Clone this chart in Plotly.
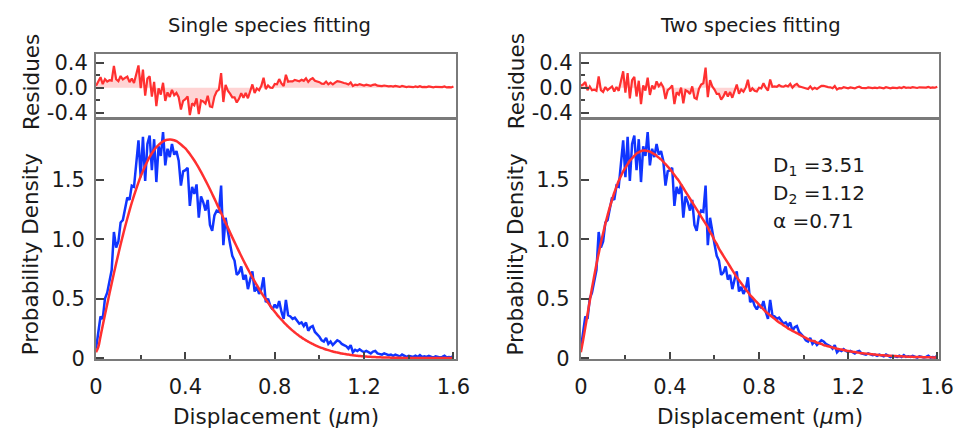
import plotly.graph_objects as go

# ---------------- data ----------------
bin_step = 0.01
n_bins = 161
displacement = [round(i * bin_step, 2) for i in range(n_bins)]

# measured probability density (same histogram in both panels)
density = [
    0.08, 0.20, 0.35, 0.33, 0.50, 0.55, 0.66, 0.74, 1.06, 0.93,
    0.98, 1.14, 1.16, 1.26, 1.35, 1.33, 1.45, 1.44, 1.62, 1.83,
    1.52, 1.86, 1.49, 1.80, 1.87, 1.58, 1.84, 1.48, 1.78, 1.70,
    1.90, 1.62, 1.76, 1.69, 1.80, 1.71, 1.74, 1.66, 1.45, 1.57,
    1.58, 1.60, 1.28, 1.44, 1.38, 1.46, 1.18, 1.36, 1.31, 1.24,
    1.33, 1.12, 1.07, 1.20, 1.24, 1.23, 1.45, 0.95, 1.18, 1.05,
    0.96, 0.86, 0.82, 0.70, 0.72, 0.77, 0.66, 0.70, 0.58, 0.66,
    0.73, 0.56, 0.60, 0.54, 0.58, 0.68, 0.47, 0.50, 0.44, 0.41,
    0.45, 0.42, 0.48, 0.39, 0.33, 0.49, 0.36, 0.35, 0.33, 0.34,
    0.31, 0.29, 0.30, 0.27, 0.30, 0.23, 0.26, 0.27, 0.22, 0.20,
    0.18, 0.15, 0.14, 0.17, 0.12, 0.14, 0.11, 0.13, 0.15, 0.14,
    0.12, 0.11, 0.10, 0.08, 0.11, 0.05, 0.07, 0.06, 0.075, 0.06,
    0.05, 0.06, 0.05, 0.04, 0.055, 0.06, 0.04, 0.035, 0.03, 0.04,
    0.03, 0.025, 0.03, 0.02, 0.03, 0.02, 0.015, 0.03, 0.02, 0.01,
    0.02, 0.015, 0.01, 0.02, 0.01, 0.025, 0.01, 0.015, 0.01, 0.02,
    0.01, 0.005, 0.015, 0.01, 0.005, 0.01, 0.02, 0.005, 0.01, 0.005,
    0.02,
]

# single species fit curve
fit_single = [
    0.05, 0.092, 0.183, 0.274, 0.364, 0.453, 0.541, 0.628, 0.713, 0.796,
    0.876, 0.955, 1.030, 1.104, 1.174, 1.241, 1.306, 1.366, 1.423, 1.477,
    1.528, 1.573, 1.616, 1.655, 1.691, 1.722, 1.749, 1.773, 1.792, 1.809,
    1.822, 1.831, 1.835, 1.837, 1.836, 1.831, 1.823, 1.811, 1.796, 1.779,
    1.762, 1.740, 1.716, 1.689, 1.661, 1.631, 1.599, 1.565, 1.530, 1.494,
    1.457, 1.419, 1.380, 1.341, 1.300, 1.260, 1.219, 1.178, 1.137, 1.097,
    1.056, 1.015, 0.975, 0.936, 0.897, 0.859, 0.821, 0.784, 0.748, 0.713,
    0.678, 0.645, 0.613, 0.581, 0.551, 0.521, 0.493, 0.466, 0.439, 0.414,
    0.390, 0.366, 0.344, 0.323, 0.303, 0.284, 0.265, 0.248, 0.231, 0.216,
    0.201, 0.187, 0.174, 0.161, 0.150, 0.139, 0.128, 0.119, 0.110, 0.101,
    0.093, 0.086, 0.079, 0.073, 0.067, 0.061, 0.056, 0.051, 0.047, 0.043,
    0.039, 0.036, 0.033, 0.030, 0.027, 0.024, 0.022, 0.020, 0.018, 0.016,
    0.015, 0.013, 0.012, 0.011, 0.010, 0.009, 0.008, 0.007, 0.006, 0.006,
    0.005, 0.005, 0.004, 0.004, 0.003, 0.003, 0.003, 0.002, 0.002, 0.002,
    0.002, 0.002, 0.002, 0.001, 0.001, 0.001, 0.001, 0.001, 0.001, 0.001,
    0.001, 0.001, 0.001, 0.001, 0.001, 0.001, 0.001, 0.001, 0.001, 0.001,
    0.001,
]

# two species fit curve
fit_two = [
    0.05, 0.15, 0.26, 0.37, 0.48, 0.59, 0.69, 0.79, 0.88, 0.97,
    1.05, 1.13, 1.20, 1.27, 1.33, 1.39, 1.44, 1.49, 1.53, 1.57,
    1.60, 1.63, 1.66, 1.68, 1.70, 1.72, 1.73, 1.74, 1.745, 1.745,
    1.74, 1.735, 1.725, 1.715, 1.70, 1.685, 1.67, 1.65, 1.63, 1.61,
    1.59, 1.565, 1.54, 1.515, 1.49, 1.46, 1.43, 1.40, 1.37, 1.34,
    1.31, 1.28, 1.25, 1.22, 1.19, 1.16, 1.13, 1.10, 1.06, 1.03,
    0.99, 0.96, 0.92, 0.89, 0.86, 0.83, 0.80, 0.77, 0.74, 0.71,
    0.68, 0.655, 0.63, 0.605, 0.58, 0.555, 0.53, 0.51, 0.49, 0.47,
    0.45, 0.43, 0.41, 0.39, 0.375, 0.36, 0.345, 0.33, 0.315, 0.30,
    0.29, 0.275, 0.265, 0.25, 0.24, 0.23, 0.22, 0.21, 0.20, 0.19,
    0.18, 0.17, 0.16, 0.15, 0.145, 0.14, 0.13, 0.125, 0.12, 0.11,
    0.105, 0.10, 0.095, 0.09, 0.085, 0.08, 0.076, 0.072, 0.068, 0.064,
    0.060, 0.057, 0.054, 0.051, 0.048, 0.045, 0.042, 0.040, 0.038, 0.036,
    0.034, 0.032, 0.030, 0.028, 0.026, 0.025, 0.024, 0.022, 0.021, 0.020,
    0.019, 0.018, 0.017, 0.016, 0.015, 0.014, 0.013, 0.012, 0.012, 0.011,
    0.010, 0.010, 0.009, 0.009, 0.008, 0.008, 0.007, 0.007, 0.006, 0.006,
    0.006,
]

# residuals = measured - fit
resid_single = [round(d - f, 3) for d, f in zip(density, fit_single)]
resid_two = [round(d - f, 3) for d, f in zip(density, fit_two)]

x_tickvals = [0, 0.4, 0.8, 1.2, 1.6]
x_ticktext = ["0", "0.4", "0.8", "1.2", "1.6"]
x_minor = [0.2, 0.6, 1.0, 1.4]
y_tickvals = [0, 0.5, 1.0, 1.5]
y_ticktext = ["0", "0.5", "1.0", "1.5"]
r_tickvals = [-0.4, 0.0, 0.4]
r_ticktext = ["-0.4", "0.0", "0.4"]
r_minor = [-0.2, 0.2]

titles = ["Single species fitting", "Two species fitting"]
fit_params = ["D<sub>1</sub> =3.51", "D<sub>2</sub> =1.12", "α =0.71"]

# ---------------- figure ----------------
W, H = 974, 442
FONT = "DejaVu Sans"
BLUE = "#1035ff"
RED = "#ff3030"
FRAME = "#7a7a7a"
TXT = "#1a1a1a"

fig = go.Figure()

def px_x(p):
    return p / W

def px_y(p):
    return 1 - p / H

panels = [
    dict(fit=fit_single, res=resid_single, xa="x", ya="y", xr="x2", yr="y2",
         dom=[px_x(91), px_x(459)], xmax=1.612),
    dict(fit=fit_two, res=resid_two, xa="x3", ya="y3", xr="x4", yr="y4",
         dom=[px_x(586.5), px_x(953)], xmax=1.61),
]

main_dom = [px_y(368), px_y(121)]
res_dom = [px_y(118), px_y(53)]

for i, p in enumerate(panels):
    fig.add_trace(go.Scatter(x=displacement, y=p["res"], mode="lines",
                             line=dict(color=RED, width=2.2),
                             fill="tozeroy", fillcolor="rgba(255,60,60,0.22)",
                             xaxis=p["xr"], yaxis=p["yr"], showlegend=False,
                             hoverinfo="skip"))
    fig.add_trace(go.Scatter(x=displacement, y=density, mode="lines",
                             line=dict(color=BLUE, width=2.5),
                             xaxis=p["xa"], yaxis=p["ya"], showlegend=False))
    fig.add_trace(go.Scatter(x=displacement, y=p["fit"], mode="lines",
                             line=dict(color=RED, width=2.5, shape="spline"),
                             xaxis=p["xa"], yaxis=p["ya"], showlegend=False))

tickfont = dict(family=FONT, size=21, color=TXT)

def axis_common():
    return dict(showline=True, mirror=True, linecolor=FRAME, linewidth=2,
                showgrid=False, zeroline=False, tickcolor="#444",
                tickfont=tickfont)

layout = {}
for i, p in enumerate(panels):
    kx = "xaxis" if i == 0 else "xaxis3"
    ky = "yaxis" if i == 0 else "yaxis3"
    kxr = "xaxis2" if i == 0 else "xaxis4"
    kyr = "yaxis2" if i == 0 else "yaxis4"
    layout[kx] = dict(axis_common(), domain=p["dom"], range=[0, p["xmax"]],
                      anchor=p["ya"], tickmode="array", tickvals=x_tickvals,
                      ticktext=x_ticktext, ticks="inside", ticklen=7, tickwidth=1.5,
                      ticklabelstandoff=7,
                      minor=dict(tickmode="array", tickvals=x_minor, ticks="inside",
                                 ticklen=4, tickwidth=1.5, tickcolor="#444"))
    layout[ky] = dict(axis_common(), domain=main_dom, range=[-0.01, 2.0],
                      anchor=p["xa"], tickmode="array", tickvals=y_tickvals,
                      ticktext=y_ticktext, ticks="inside", ticklen=8, tickwidth=1.5,
                      ticklabelstandoff=5)
    layout[kxr] = dict(axis_common(), domain=p["dom"], range=[0, p["xmax"]],
                       anchor=p["yr"], showticklabels=False, ticks="")
    layout[kyr] = dict(axis_common(), domain=res_dom, range=[-0.47, 0.53],
                       anchor=p["xr"], tickmode="array", tickvals=r_tickvals,
                       ticktext=r_ticktext, ticks="inside", ticklen=8, tickwidth=1.5,
                       ticklabelstandoff=2,
                       minor=dict(tickmode="array", tickvals=r_minor, ticks="inside",
                                  ticklen=4, tickwidth=1.5, tickcolor="#444"))

annotations = []
lab_font = dict(family=FONT, size=21.5, color=TXT)
title_font = dict(family=FONT, size=19.5, color=TXT)
for i, (cx_title, cx_xlab, cx_ylab) in enumerate([(268, 275, 24), (760, 770, 520)]):
    annotations.append(dict(text=titles[i], x=px_x(cx_title), y=px_y(23), xref="paper",
                            yref="paper", showarrow=False, font=title_font,
                            xanchor="center", yanchor="middle"))
    annotations.append(dict(text="Displacement (<i>μ</i>m)", x=px_x(cx_xlab), y=px_y(427),
                            xref="paper", yref="paper", showarrow=False, font=lab_font,
                            xanchor="center", yanchor="middle"))
    annotations.append(dict(text="Probability Density", x=px_x(cx_ylab), y=px_y(259),
                            xref="paper", yref="paper", showarrow=False, font=lab_font,
                            textangle=-90, xanchor="center", yanchor="middle"))
    annotations.append(dict(text="Residues", x=px_x(cx_ylab + 1), y=px_y(81),
                            xref="paper", yref="paper", showarrow=False, font=lab_font,
                            textangle=-90, xanchor="center", yanchor="middle"))

for j, (txt, yp) in enumerate(zip(fit_params, [168, 197, 225])):
    annotations.append(dict(text=txt, x=px_x(781), y=px_y(yp), xref="paper", yref="paper",
                            showarrow=False, font=dict(family=FONT, size=20, color=TXT),
                            xanchor="left", yanchor="middle"))

fig.update_layout(
    width=W, height=H, margin=dict(l=0, r=0, t=0, b=0),
    paper_bgcolor="white", plot_bgcolor="white",
    annotations=annotations, showlegend=False,
    **layout,
)

fig.write_html("out.html")
